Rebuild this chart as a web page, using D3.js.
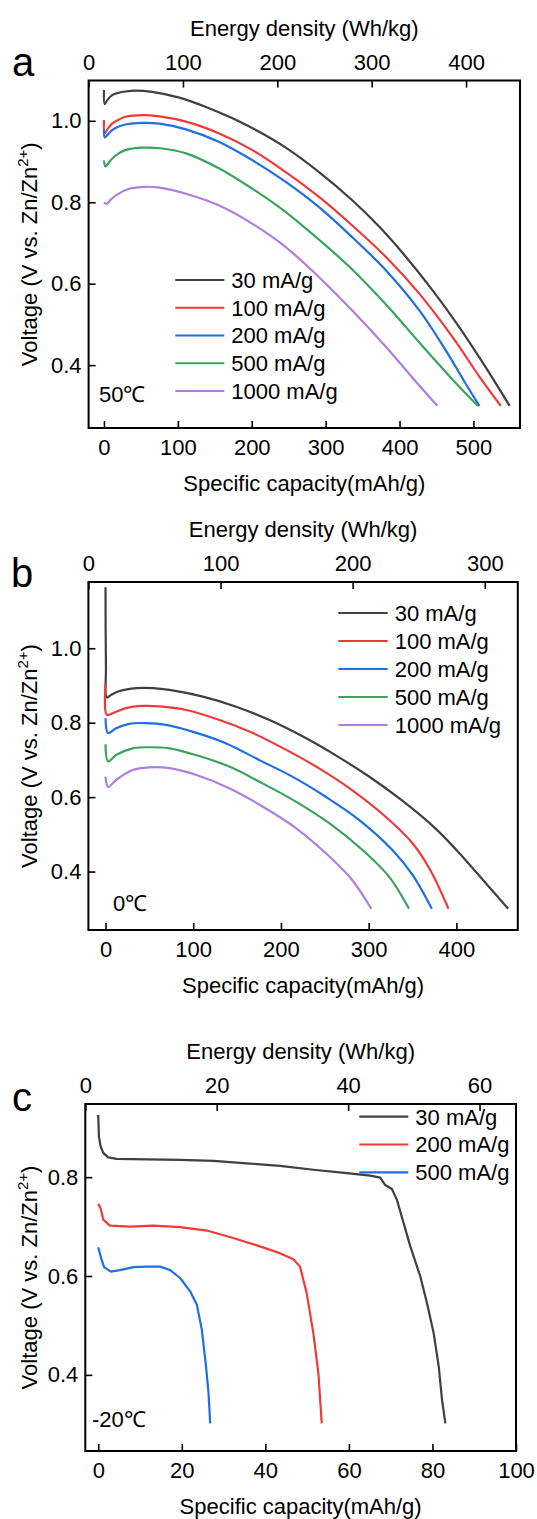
<!DOCTYPE html>
<html>
<head>
<meta charset="utf-8">
<script src="https://cdn.jsdelivr.net/npm/d3@7"></script>
<style>
  body { margin: 0; background: #fff; }
  text { font-family: "Liberation Sans", Arial, sans-serif; }
</style>
</head>
<body>
<script>
// ---- data: [capacity mAh/g, voltage V] ----
var rates5 = ["30 mA/g", "100 mA/g", "200 mA/g", "500 mA/g", "1000 mA/g"];
var rates3 = ["30 mA/g", "200 mA/g", "500 mA/g"];

// a: 50 C
var a30 = [[0,1.076],[1,1.041],[5,1.052],[11,1.063],[20,1.069],[29,1.072],[43,1.074],[65,1.071],[102,1.057],[138,1.034],[174,1.006],[210,0.973],[246,0.934],[291,0.874],[336,0.805],[373,0.739],[409,0.665],[445,0.583],[481,0.493],[508,0.419],[530,0.356],[549,0.30]];
var a100 = [[0,1.002],[1,0.969],[5,0.980],[11,0.993],[20,1.003],[29,1.010],[52,1.014],[75,1.011],[111,0.998],[156,0.969],[201,0.928],[246,0.874],[291,0.813],[336,0.743],[382,0.665],[427,0.575],[472,0.468],[508,0.372],[537,0.30]];
var a200 = [[0,0.981],[1,0.959],[5,0.966],[11,0.977],[20,0.986],[29,0.991],[52,0.995],[75,0.993],[111,0.979],[156,0.948],[201,0.903],[246,0.850],[291,0.788],[336,0.714],[382,0.632],[427,0.534],[463,0.435],[490,0.353],[508,0.30]];
var a500 = [[0,0.903],[2,0.888],[6,0.896],[11,0.907],[20,0.920],[29,0.928],[52,0.934],[79,0.932],[111,0.920],[156,0.883],[201,0.833],[246,0.776],[291,0.708],[336,0.635],[382,0.548],[427,0.455],[463,0.382],[486,0.337],[506,0.30]];
var a1000 = [[0,0.799],[4,0.796],[9,0.806],[16,0.817],[34,0.833],[56,0.838],[75,0.836],[111,0.821],[156,0.792],[201,0.747],[246,0.690],[291,0.616],[336,0.534],[382,0.444],[418,0.368],[451,0.30]];

// b: 0 C
var b30 = [[0,1.164],[0.5,0.95],[1.5,0.868],[6,0.874],[16,0.885],[35,0.893],[54,0.893],[73,0.888],[111,0.870],[149,0.843],[187,0.807],[224,0.764],[262,0.713],[300,0.656],[338,0.591],[376,0.516],[407,0.440],[433,0.370],[459,0.30]];
var b100 = [[0,0.904],[1.5,0.821],[8,0.825],[23,0.839],[42,0.845],[65,0.843],[92,0.834],[130,0.807],[168,0.772],[206,0.727],[243,0.678],[281,0.619],[319,0.548],[350,0.476],[370,0.405],[391,0.30]];
var b200 = [[0,0.812],[3,0.772],[12,0.785],[27,0.797],[46,0.799],[69,0.794],[99,0.776],[137,0.745],[175,0.700],[213,0.655],[251,0.601],[289,0.539],[327,0.458],[350,0.391],[372,0.30]];
var b500 = [[0,0.742],[3,0.696],[12,0.713],[31,0.731],[50,0.734],[73,0.731],[103,0.713],[141,0.682],[179,0.637],[217,0.588],[255,0.530],[293,0.458],[323,0.387],[346,0.30]];
var b1000 = [[0,0.655],[3,0.627],[12,0.646],[31,0.673],[50,0.680],[73,0.678],[103,0.660],[141,0.624],[179,0.575],[217,0.517],[255,0.441],[281,0.378],[303,0.30]];

// c: -20 C
var c30 = [[0,0.926],[0.16,0.882],[0.56,0.862],[1.2,0.849],[2.4,0.840],[4.4,0.837],[11.6,0.836],[19.6,0.835],[27.6,0.833],[35.5,0.828],[43.5,0.823],[51.5,0.815],[59.5,0.808],[65.1,0.803],[67.5,0.799],[68.7,0.784],[70.3,0.776],[71.5,0.754],[73.1,0.707],[74.7,0.660],[77.1,0.599],[78.7,0.545],[80.3,0.484],[81.5,0.417],[82.3,0.349],[83.1,0.302]];
var c200 = [[0,0.746],[0.56,0.737],[1.2,0.714],[2.8,0.702],[7.6,0.700],[13.2,0.702],[19.6,0.699],[26.0,0.692],[32.3,0.677],[38.7,0.660],[43.5,0.646],[46.7,0.634],[48.3,0.619],[49.9,0.565],[51.5,0.484],[52.7,0.403],[53.5,0.302]];
var c500 = [[0,0.658],[0.8,0.633],[1.4,0.618],[3.0,0.609],[5.2,0.612],[8.4,0.618],[11.6,0.619],[14.8,0.619],[17.2,0.612],[19.6,0.596],[22.0,0.569],[23.6,0.542],[24.8,0.491],[25.8,0.417],[26.4,0.363],[26.8,0.302]];

// tick values
var capTicksA = [0, 100, 200, 300, 400, 500];
var capTicksB = [0, 100, 200, 300, 400];
var capTicksC = [0, 20, 40, 60, 80, 100];
var energyTicksA = [0, 100, 200, 300, 400];
var energyTicksB = [0, 100, 200, 300];
var energyTicksC = [0, 20, 40, 60];
var voltTicks = [0.4, 0.6, 0.8, 1.0];
var voltTicksC = [0.4, 0.6, 0.8];

var col = {k: "#404040", r: "#f03a3a", b: "#1f6fe0", g: "#38a45c", p: "#b07ee0"};
var font = '"Liberation Sans", Arial, sans-serif';

var svg = d3.select("body").append("svg")
  .attr("width", 537)
  .attr("height", 1519);

function drawPanel(p) {
  var x = d3.scaleLinear().domain(p.xDomain).range([p.left, p.right]);
  var xTop = d3.scaleLinear().domain(p.topDomain).range([p.left, p.right]);
  var y = d3.scaleLinear().domain(p.yDomain).range([p.bottom, p.top]);

  var g = svg.append("g");

  var axB = g.append("g").attr("transform", "translate(0," + p.bottom + ")")
    .call(d3.axisBottom(x).tickValues(p.xTicks).tickFormat(d3.format("d"))
      .tickSizeInner(-7).tickSizeOuter(0).tickPadding(11));
  var axT = g.append("g").attr("transform", "translate(0," + p.top + ")")
    .call(d3.axisTop(xTop).tickValues(p.topTicks).tickFormat(d3.format("d"))
      .tickSizeInner(-7).tickSizeOuter(0).tickPadding(11));
  var axL = g.append("g").attr("transform", "translate(" + p.left + ",0)")
    .call(d3.axisLeft(y).tickValues(p.yTicks).tickFormat(d3.format(".1f"))
      .tickSizeInner(-7).tickSizeOuter(0).tickPadding(7));

  [axB, axT, axL].forEach(function(a) {
    a.attr("font-size", 22).attr("font-family", font);
    a.select(".domain").remove();
    a.selectAll(".tick line").attr("stroke", "#000").attr("stroke-width", 1.6);
    a.selectAll(".tick text").attr("fill", "#000");
  });

  var line = d3.line()
    .x(function(d) { return x(d[0]); })
    .y(function(d) { return y(d[1]); })
    .curve(p.curve);

  p.series.forEach(function(s, i) {
    g.append("path")
      .datum(s)
      .attr("d", line)
      .attr("fill", "none")
      .attr("stroke", p.colors[i])
      .attr("stroke-width", 2.2)
      .attr("stroke-linejoin", "round");
  });

  // frame
  g.append("rect")
    .attr("x", p.left).attr("y", p.top)
    .attr("width", p.right - p.left).attr("height", p.bottom - p.top)
    .attr("fill", "none").attr("stroke", "#000").attr("stroke-width", 2);

  var cx = (p.left + p.right) / 2;
  g.append("text").attr("x", cx).attr("y", p.top - 45)
    .attr("text-anchor", "middle").attr("font-size", 22)
    .text("Energy density (Wh/kg)");
  g.append("text").attr("x", cx).attr("y", p.bottom + 63)
    .attr("text-anchor", "middle").attr("font-size", 22)
    .text("Specific capacity(mAh/g)");

  var yl = g.append("text")
    .attr("transform", "translate(37," + (p.top + p.bottom) / 2 + ") rotate(-90)")
    .attr("text-anchor", "middle").attr("font-size", 22);
  yl.append("tspan").text("Voltage (V vs. Zn/Zn");
  yl.append("tspan").attr("font-size", 15).attr("dy", -9).text("2+");
  yl.append("tspan").attr("dy", 9).text(")");

  g.append("text").attr("x", p.letterX).attr("y", p.letterY)
    .attr("font-size", 40).text(p.letter);

  g.append("text").attr("x", p.tempX).attr("y", p.tempY)
    .attr("font-size", 22).text(p.temp);

  p.labels.forEach(function(lab, i) {
    var ly = p.legY + i * p.legStep;
    g.append("line")
      .attr("x1", p.legX1).attr("x2", p.legX2)
      .attr("y1", ly).attr("y2", ly)
      .attr("stroke", p.colors[i]).attr("stroke-width", 2.2);
    g.append("text").attr("x", p.legX2 + 7).attr("y", ly)
      .attr("dy", "0.36em").attr("font-size", 22).text(lab);
  });
}

var smooth = d3.curveCatmullRom.alpha(0.5);

drawPanel({
  letter: "a", letterX: 12, letterY: 76,
  left: 88.6, right: 520, top: 80.5, bottom: 428,
  xDomain: [-20.8, 563], topDomain: [0, 457.2], yDomain: [0.2456, 1.099],
  xTicks: capTicksA, topTicks: energyTicksA, yTicks: voltTicks,
  series: [a30, a100, a200, a500, a1000], labels: rates5,
  colors: [col.k, col.r, col.b, col.g, col.p], curve: smooth,
  temp: "50℃", tempX: 99, tempY: 402,
  legX1: 175.3, legX2: 224.3, legY: 280, legStep: 27.75
});

drawPanel({
  letter: "b", letterX: 11, letterY: 587,
  left: 88.4, right: 517.8, top: 582, bottom: 930,
  xDomain: [-19.5, 470], topDomain: [0, 325], yDomain: [0.243, 1.178],
  xTicks: capTicksB, topTicks: energyTicksB, yTicks: voltTicks,
  series: [b30, b100, b200, b500, b1000], labels: rates5,
  colors: [col.k, col.r, col.b, col.g, col.p], curve: smooth,
  temp: "0℃", tempX: 113, tempY: 911,
  legX1: 338.3, legX2: 387.7, legY: 613, legStep: 28
});

drawPanel({
  letter: "c", letterX: 12, letterY: 1111,
  left: 85.3, right: 516, top: 1104, bottom: 1451,
  xDomain: [-3.1, 100], topDomain: [0, 65.55], yDomain: [0.246, 0.948],
  xTicks: capTicksC, topTicks: energyTicksC, yTicks: voltTicksC,
  series: [c30, c200, c500], labels: rates3,
  colors: [col.k, col.r, col.b], curve: d3.curveLinear,
  temp: "-20℃", tempX: 92, tempY: 1427,
  legX1: 359.3, legX2: 408.3, legY: 1116.7, legStep: 27.8
});
</script>
</body>
</html>
